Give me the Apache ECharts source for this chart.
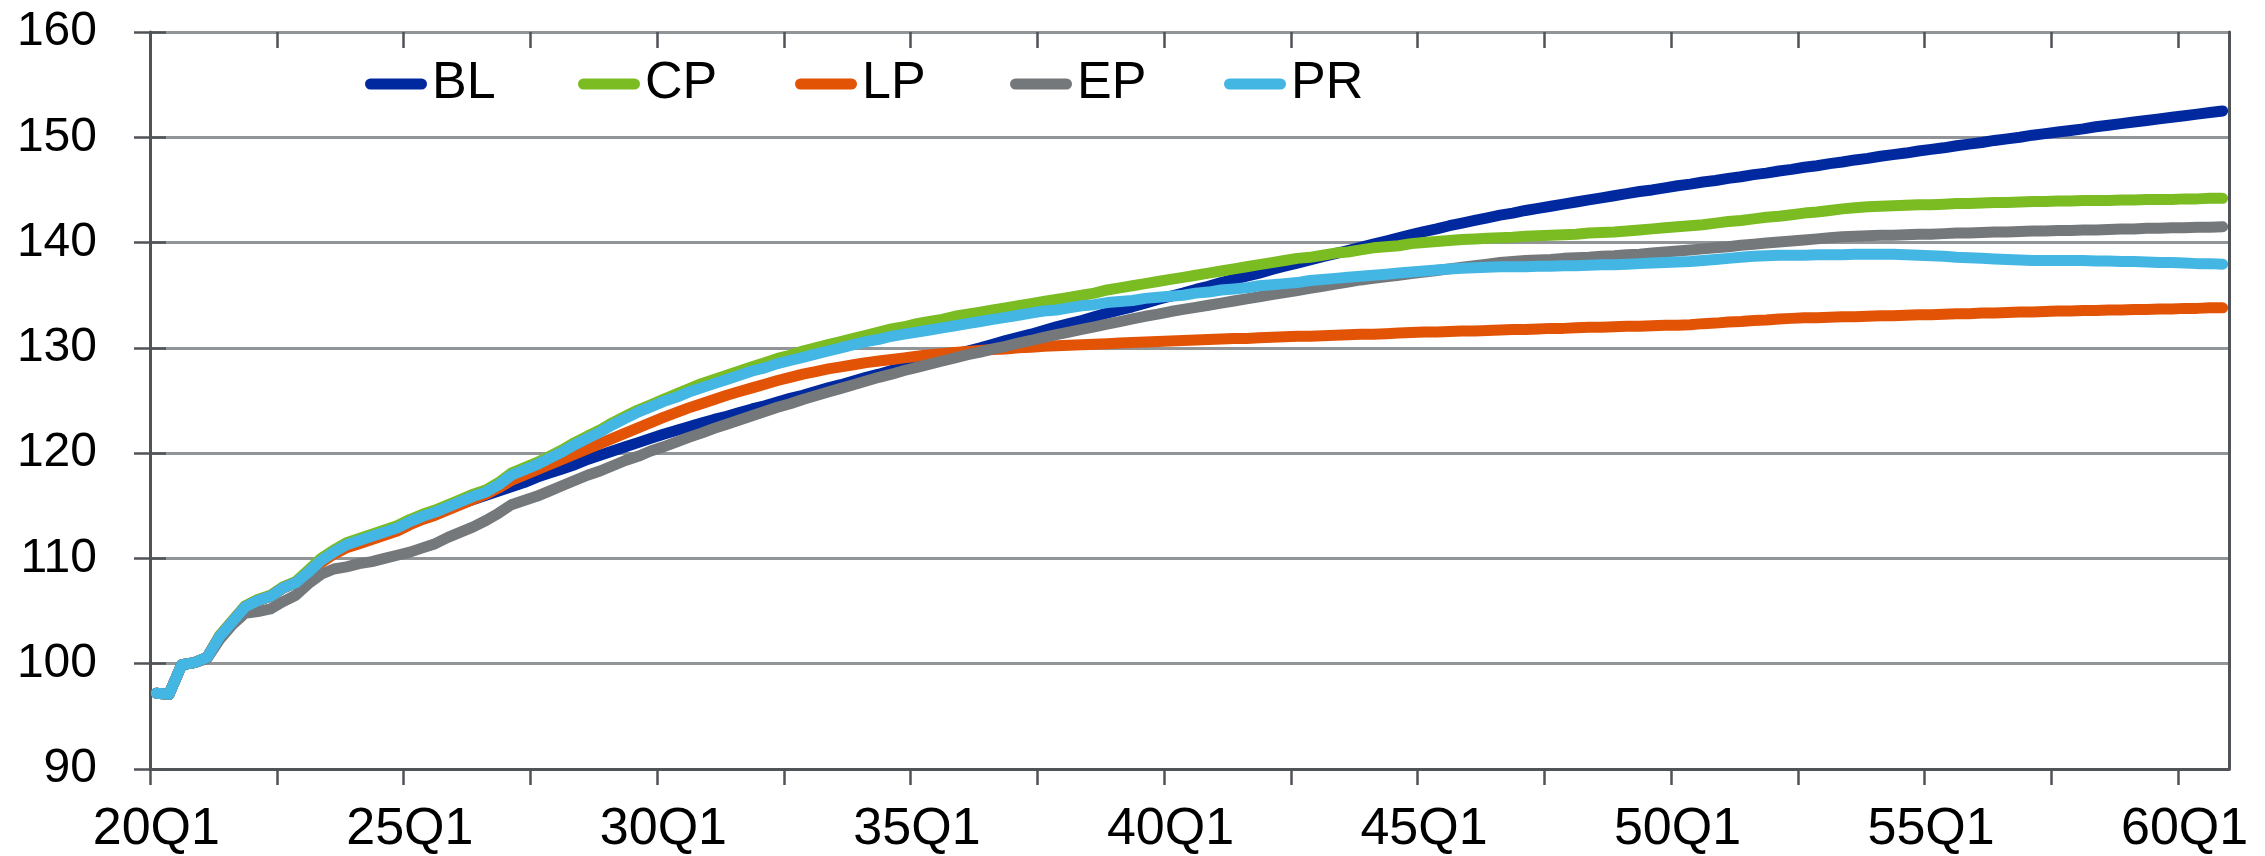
<!DOCTYPE html>
<html>
<head>
<meta charset="utf-8">
<script src="https://cdn.jsdelivr.net/npm/echarts@6/dist/echarts.min.js"></script>
<style>
  html, body { margin: 0; padding: 0; background: #ffffff; }
  #chart { width: 2265px; height: 856px; }
</style>
</head>
<body>
<div id="chart"></div>
<script>
// Quarterly categories 20Q1 .. 60Q4
const firstYear = 20;
const lastYear = 60;
const quarters = [];
for (let y = firstYear; y <= lastYear; y++) {
  for (let q = 1; q <= 4; q++) quarters.push(y + 'Q' + q);
}

// Value axis range
const yMin = 90;
const yMax = 160;
const yStep = 10;

const seriesNames = ['BL', 'CP', 'LP', 'EP', 'PR'];
const seriesColors = ['#0029a0', '#7abc22', '#e25305', '#75787b', '#43b6e4'];

const BL = [
  97.2, 97.1, 99.9, 100.1, 100.6, 102.6, 104.0, 105.4, 106.0, 106.4,
  107.2, 107.7, 108.7, 109.7, 110.5, 111.2, 111.6, 112.0, 112.4, 112.8,
  113.3, 113.8, 114.2, 114.7, 115.2, 115.6, 116.0, 116.4, 116.8, 117.2,
  117.7, 118.1, 118.5, 118.9, 119.4, 119.8, 120.2, 120.6, 121.0, 121.4,
  121.8, 122.15, 122.5, 122.85, 123.2, 123.5, 123.85, 124.2, 124.5, 124.85,
  125.2, 125.5, 125.85, 126.2, 126.5, 126.85, 127.2, 127.5, 127.85, 128.1,
  128.4, 128.7, 129.05, 129.4, 129.7, 130.0, 130.35, 130.7, 131.0, 131.3,
  131.65, 132.0, 132.3, 132.6, 132.95, 133.3, 133.6, 133.9, 134.25, 134.6,
  134.9, 135.2, 135.55, 135.85, 136.2, 136.5, 136.8, 137.1, 137.45, 137.75,
  138.05, 138.35, 138.65, 138.95, 139.25, 139.55, 139.85, 140.15, 140.45, 140.75,
  141.05, 141.3, 141.6, 141.85, 142.1, 142.35, 142.6, 142.8, 143.05, 143.25,
  143.45, 143.65, 143.85, 144.05, 144.25, 144.45, 144.65, 144.85, 145.0, 145.2,
  145.4, 145.55, 145.75, 145.9, 146.1, 146.25, 146.45, 146.6, 146.8, 146.95,
  147.15, 147.3, 147.5, 147.65, 147.85, 148.0, 148.2, 148.35, 148.5, 148.7,
  148.85, 149.0, 149.2, 149.35, 149.5, 149.7, 149.85, 150.0, 150.2, 150.35,
  150.5, 150.65, 150.8, 151.0, 151.15, 151.3, 151.45, 151.6, 151.75, 151.9,
  152.05, 152.2, 152.35, 152.5
];

const CP = [
  97.2, 97.1, 99.9, 100.1, 100.6, 102.7, 104.1, 105.5, 106.1, 106.5,
  107.3, 107.8, 108.9, 110.0, 110.8, 111.5, 111.9, 112.3, 112.7, 113.1,
  113.7, 114.2, 114.6, 115.1, 115.6, 116.1, 116.5, 117.2, 118.1, 118.6,
  119.1, 119.7, 120.3, 121.0, 121.6, 122.2, 122.9, 123.5, 124.1, 124.6,
  125.1, 125.6, 126.1, 126.6, 127.0, 127.4, 127.8, 128.2, 128.6, 129.0,
  129.3, 129.7, 130.0, 130.3, 130.6, 130.9, 131.2, 131.5, 131.8, 132.0,
  132.3, 132.5, 132.7, 133.0, 133.2, 133.4, 133.6, 133.8, 134.0, 134.2,
  134.4, 134.6, 134.8, 135.0, 135.2, 135.5, 135.7, 135.9, 136.1, 136.3,
  136.5, 136.7, 136.9, 137.1, 137.3, 137.5, 137.7, 137.9, 138.1, 138.3,
  138.5, 138.6, 138.8, 139.0, 139.1, 139.3, 139.5, 139.6, 139.7, 139.9,
  140.0, 140.1, 140.2, 140.3, 140.35, 140.4, 140.45, 140.5, 140.6, 140.65,
  140.7, 140.75, 140.8, 140.9, 140.95, 141.0, 141.1, 141.2, 141.3, 141.4,
  141.5, 141.6, 141.7, 141.85, 142.0, 142.1, 142.25, 142.4, 142.5, 142.65,
  142.8, 142.9, 143.05, 143.2, 143.3, 143.4, 143.45, 143.5, 143.55, 143.6,
  143.6, 143.65, 143.7, 143.7, 143.75, 143.8, 143.8, 143.85, 143.9, 143.9,
  143.95, 143.95, 144.0, 144.0, 144.0, 144.05, 144.05, 144.1, 144.1, 144.1,
  144.15, 144.15, 144.2, 144.2
];

const LP = [
  97.2, 97.1, 99.9, 100.1, 100.6, 102.6, 104.0, 105.4, 106.0, 106.4,
  107.2, 107.7, 108.6, 109.6, 110.4, 111.0, 111.4, 111.8, 112.2, 112.6,
  113.2, 113.7, 114.1, 114.6, 115.1, 115.6, 116.1, 116.7, 117.4, 117.9,
  118.4, 118.9, 119.4, 119.9, 120.4, 120.9, 121.4, 121.9, 122.4, 122.9,
  123.4, 123.85, 124.3, 124.7, 125.1, 125.5, 125.85, 126.2, 126.55, 126.9,
  127.2, 127.5, 127.75, 128.0, 128.2, 128.4, 128.6, 128.75, 128.9, 129.05,
  129.2, 129.35, 129.45, 129.55, 129.65, 129.75, 129.85, 129.9, 130.0, 130.05,
  130.15, 130.2, 130.25, 130.3, 130.35, 130.4, 130.45, 130.5, 130.55, 130.6,
  130.65, 130.7, 130.75, 130.8, 130.85, 130.9, 130.9, 130.95, 131.0, 131.05,
  131.1, 131.1, 131.15, 131.2, 131.25, 131.3, 131.3, 131.35, 131.4, 131.45,
  131.5, 131.5, 131.55, 131.6, 131.6, 131.65, 131.7, 131.75, 131.75, 131.8,
  131.85, 131.85, 131.9, 131.95, 131.95, 132.0, 132.05, 132.05, 132.1, 132.15,
  132.15, 132.2, 132.3, 132.35, 132.45, 132.5, 132.6, 132.65, 132.75, 132.8,
  132.85, 132.85, 132.9, 132.95, 132.95, 133.0, 133.05, 133.05, 133.1, 133.15,
  133.15, 133.2, 133.25, 133.25, 133.3, 133.3, 133.35, 133.4, 133.4, 133.45,
  133.5, 133.5, 133.55, 133.55, 133.6, 133.6, 133.65, 133.65, 133.7, 133.7,
  133.75, 133.75, 133.8, 133.8
];

const EP = [
  97.2, 97.1, 99.9, 100.1, 100.5, 102.3, 103.7, 104.8, 104.95, 105.2,
  105.9, 106.5, 107.6, 108.5, 109.0, 109.2, 109.5, 109.7, 110.0, 110.3,
  110.6, 111.0, 111.4, 112.0, 112.5, 113.0, 113.6, 114.3, 115.1, 115.5,
  115.9, 116.4, 116.9, 117.4, 117.9, 118.3, 118.8, 119.3, 119.7, 120.2,
  120.6, 121.05, 121.5, 121.9, 122.35, 122.75, 123.15, 123.55, 123.95, 124.35,
  124.7, 125.1, 125.45, 125.8, 126.15, 126.5, 126.85, 127.2, 127.5, 127.85,
  128.15, 128.45, 128.75, 129.05, 129.35, 129.6, 129.9, 130.15, 130.45, 130.7,
  131.0, 131.25, 131.5, 131.75, 132.0, 132.25, 132.5, 132.75, 133.0, 133.2,
  133.45, 133.65, 133.85, 134.05, 134.25, 134.45, 134.65, 134.85, 135.05, 135.25,
  135.45, 135.65, 135.85, 136.05, 136.25, 136.45, 136.6, 136.75, 136.9, 137.05,
  137.2, 137.35, 137.5, 137.65, 137.8, 137.95, 138.1, 138.2, 138.3, 138.35,
  138.4, 138.5, 138.55, 138.6, 138.7, 138.75, 138.85, 138.9, 139.0, 139.1,
  139.2, 139.3, 139.4, 139.5, 139.6, 139.75, 139.85, 139.95, 140.05, 140.15,
  140.25, 140.35, 140.45, 140.55, 140.6, 140.65, 140.7, 140.7, 140.75, 140.8,
  140.8, 140.85, 140.9, 140.9, 140.95, 141.0, 141.0, 141.05, 141.1, 141.1,
  141.15, 141.15, 141.2, 141.2, 141.25, 141.3, 141.3, 141.35, 141.35, 141.4,
  141.4, 141.45, 141.45, 141.5
];

const PR = [
  97.2, 97.1, 99.9, 100.1, 100.6, 102.6, 104.0, 105.4, 106.0, 106.4,
  107.2, 107.7, 108.7, 109.8, 110.6, 111.3, 111.7, 112.1, 112.5, 112.9,
  113.5, 114.0, 114.4, 114.9, 115.4, 115.9, 116.3, 117.0, 117.9, 118.4,
  118.9, 119.5, 120.1, 120.8, 121.4, 122.0, 122.7, 123.3, 123.9, 124.4,
  124.9, 125.3, 125.8, 126.2, 126.6, 127.0, 127.4, 127.8, 128.1, 128.5,
  128.8, 129.1, 129.4, 129.7, 130.0, 130.3, 130.6, 130.8, 131.1, 131.3,
  131.5, 131.7, 131.9, 132.1, 132.3, 132.5, 132.7, 132.9, 133.1, 133.3,
  133.5, 133.6, 133.8, 134.0, 134.1, 134.3, 134.4, 134.5, 134.7, 134.8,
  134.9, 135.0, 135.2, 135.3, 135.5, 135.6, 135.7, 135.9, 136.0, 136.1,
  136.2, 136.4, 136.5, 136.6, 136.7, 136.8, 136.9, 137.0, 137.1, 137.2,
  137.3, 137.4, 137.5, 137.55, 137.6, 137.65, 137.7, 137.7, 137.7, 137.75,
  137.75, 137.8, 137.8, 137.85, 137.9, 137.9, 137.95, 138.0, 138.05, 138.1,
  138.15, 138.2, 138.3, 138.4, 138.5, 138.6, 138.7, 138.75, 138.8, 138.8,
  138.8, 138.85, 138.85, 138.85, 138.9, 138.9, 138.9, 138.9, 138.85, 138.8,
  138.75, 138.7, 138.6, 138.55, 138.5, 138.45, 138.4, 138.35, 138.3, 138.3,
  138.3, 138.3, 138.3, 138.25, 138.25, 138.2, 138.2, 138.15, 138.1, 138.1,
  138.05, 138.0, 138.0, 137.95
];

const seriesValues = [BL, CP, LP, EP, PR];

const FONT = '"Liberation Sans", Arial, Helvetica, sans-serif';
const AXIS_DARK = '#505357';
const GRID_GREY = '#929598';
const PILL = 'path://M5.5,0 L56.5,0 A5.5,5.5 0 0 1 56.5,11 L5.5,11 A5.5,5.5 0 0 1 5.5,0 Z';
const legendLeft = [365, 578, 795, 1010, 1224];

const chart = echarts.init(document.getElementById('chart'), null, { renderer: 'canvas' });

const option = {
  animation: false,
  backgroundColor: '#ffffff',
  grid: [
    { left: 150, right: 36, top: 32, bottom: 87 },
    // helper grid spanning 20Q1..60Q1 boundaries for the crossing tick marks
    { left: 150, right: 87, top: 32, bottom: 87 }
  ],
  legend: seriesNames.map((name, i) => ({
    data: [name],
    left: legendLeft[i],
    top: 58,
    padding: 0,
    itemWidth: 62,
    itemHeight: 11,
    icon: PILL,
    selectedMode: false,
    textStyle: { fontSize: 52, color: '#000000', fontFamily: FONT }
  })),
  xAxis: [
    {
      type: 'category',
      gridIndex: 0,
      data: quarters,
      boundaryGap: true,
      axisLine: { show: true, lineStyle: { color: AXIS_DARK, width: 3 } },
      axisTick: { show: false },
      axisLabel: { interval: 19, fontSize: 52, color: '#000000', fontFamily: FONT, margin: 35 },
      splitLine: { show: false }
    },
    {
      type: 'value', gridIndex: 1, min: 0, max: 160, interval: 10,
      axisLine: { show: false },
      axisLabel: { show: false },
      splitLine: { show: false },
      axisTick: { show: true, inside: false, length: 16, lineStyle: { color: AXIS_DARK, width: 2.5 } }
    },
    {
      type: 'value', gridIndex: 1, min: 0, max: 160, interval: 10,
      axisLine: { show: false },
      axisLabel: { show: false },
      splitLine: { show: false },
      axisTick: { show: true, inside: true, length: 16, lineStyle: { color: AXIS_DARK, width: 2.5 } }
    }
  ],
  yAxis: [
    {
      type: 'value', gridIndex: 0, position: 'left',
      min: yMin, max: yMax, interval: yStep,
      axisLine: { show: true, lineStyle: { color: AXIS_DARK, width: 3 } },
      axisTick: { show: true, inside: false, length: 16, lineStyle: { color: AXIS_DARK, width: 2.5 } },
      axisLabel: { fontSize: 48, color: '#000000', fontFamily: FONT, margin: 53 },
      splitLine: { show: true, lineStyle: { color: GRID_GREY, width: 3 } }
    },
    {
      type: 'value', gridIndex: 0, position: 'left',
      min: yMin, max: yMax, interval: yStep,
      axisLine: { show: false },
      axisLabel: { show: false },
      splitLine: { show: false },
      axisTick: { show: true, inside: true, length: 16, lineStyle: { color: AXIS_DARK, width: 2.5 } }
    },
    {
      type: 'value', gridIndex: 0, position: 'right',
      min: yMin, max: yMax, interval: yStep,
      axisLine: { show: true, lineStyle: { color: AXIS_DARK, width: 3 } },
      axisLabel: { show: false },
      axisTick: { show: false },
      splitLine: { show: false }
    },
    { type: 'value', gridIndex: 1, min: 0, max: 1, show: false }
  ],
  series: seriesNames.map((name, i) => ({
    name: name,
    type: 'line',
    xAxisIndex: 0,
    yAxisIndex: 0,
    data: seriesValues[i],
    symbol: 'none',
    showSymbol: false,
    color: seriesColors[i],
    itemStyle: { color: seriesColors[i] },
    lineStyle: { color: seriesColors[i], width: 11, cap: 'round', join: 'round' },
    emphasis: { disabled: true },
    z: 2 + i
  }))
};

chart.setOption(option);
</script>
</body>
</html>
